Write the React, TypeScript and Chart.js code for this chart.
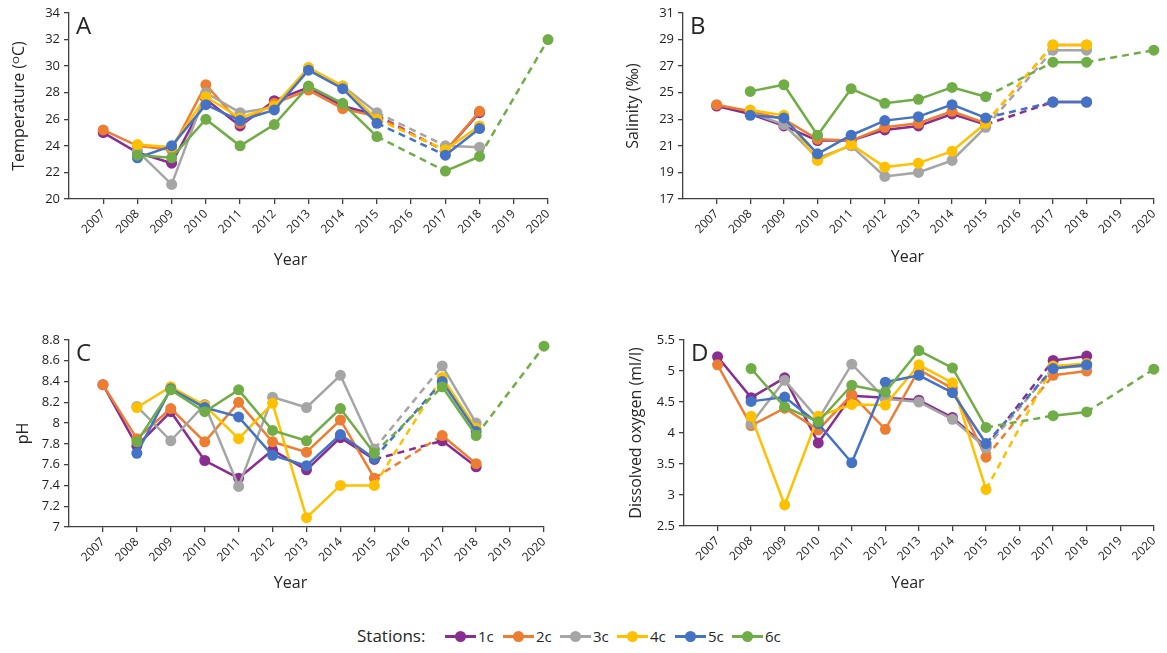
import React, { useEffect, useRef } from 'react';
import { Chart, registerables } from 'chart.js';

Chart.register(...registerables);

const FONT = '"Open Sans", "DejaVu Sans", sans-serif';
const TEXT = '#262626';
const AXIS = '#404040';

const YEARS = [2007, 2008, 2009, 2010, 2011, 2012, 2013, 2014, 2015, 2016, 2017, 2018, 2019, 2020];
const STATIONS = ['1c', '2c', '3c', '4c', '5c', '6c'];
const COLORS = ['#8A2D91', '#ED7D31', '#A5A5A5', '#FFC000', '#4472C4', '#70AD47'];

// Temperature (°C)
const TEMP_1C = [25.0, 23.5, 22.7, 27.5, 25.5, 27.4, 28.4, 27.0, 26.3, null, 23.6, 26.5, null, null];
const TEMP_2C = [25.2, 24.0, 23.7, 28.6, 25.7, 27.2, 28.2, 26.8, 26.2, null, 23.6, 26.6, null, null];
const TEMP_3C = [null, 23.6, 21.1, 28.0, 26.5, 26.9, 29.8, 28.5, 26.5, null, 24.0, 23.9, null, null];
const TEMP_4C = [null, 24.1, 23.9, 27.7, 26.1, 27.0, 29.9, 28.5, 26.0, null, 23.7, 25.5, null, null];
const TEMP_5C = [null, 23.1, 24.0, 27.1, 25.9, 26.7, 29.7, 28.3, 25.7, null, 23.3, 25.3, null, null];
const TEMP_6C = [null, 23.3, 23.1, 26.0, 24.0, 25.6, 28.5, 27.2, 24.7, null, 22.1, 23.2, null, 32.0];

// Salinity (‰)
const SAL_1C = [24.0, 23.4, 22.5, 21.4, 21.4, 22.2, 22.5, 23.4, 22.6, null, 24.3, 24.3, null, null];
const SAL_2C = [24.1, 23.6, 23.0, 21.5, 21.4, 22.4, 22.7, 23.6, 22.7, null, 28.6, 28.6, null, null];
const SAL_3C = [null, 23.5, 22.6, 20.1, 21.0, 18.7, 19.0, 19.9, 22.4, null, 28.2, 28.2, null, null];
const SAL_4C = [null, 23.7, 23.3, 19.9, 21.1, 19.4, 19.7, 20.6, 22.7, null, 28.6, 28.6, null, null];
const SAL_5C = [null, 23.3, 23.1, 20.4, 21.8, 22.9, 23.2, 24.1, 23.1, null, 24.3, 24.3, null, null];
const SAL_6C = [null, 25.1, 25.6, 21.8, 25.3, 24.2, 24.5, 25.4, 24.7, null, 27.3, 27.3, null, 28.2];

// pH
const PH_1C = [8.37, 7.78, 8.11, 7.64, 7.47, 7.74, 7.55, 7.86, 7.65, null, 7.83, 7.58, null, null];
const PH_2C = [8.37, 7.85, 8.14, 7.82, 8.20, 7.82, 7.72, 8.03, 7.47, null, 7.88, 7.61, null, null];
const PH_3C = [null, 8.16, 7.83, 8.18, 7.39, 8.25, 8.15, 8.46, 7.75, null, 8.55, 8.00, null, null];
const PH_4C = [null, 8.15, 8.35, 8.17, 7.85, 8.19, 7.09, 7.40, 7.40, null, 8.44, 7.95, null, null];
const PH_5C = [null, 7.71, 8.33, 8.15, 8.06, 7.69, 7.59, 7.89, 7.66, null, 8.40, 7.92, null, null];
const PH_6C = [null, 7.82, 8.32, 8.11, 8.32, 7.93, 7.83, 8.14, 7.71, null, 8.35, 7.88, null, 8.74];

// Dissolved oxygen (ml/l)
const DO_1C = [5.23, 4.57, 4.89, 3.84, 4.60, 4.57, 4.53, 4.25, 3.78, null, 5.17, 5.24, null, null];
const DO_2C = [5.10, 4.12, 4.40, 4.05, 4.62, 4.06, 5.02, 4.72, 3.61, null, 4.93, 5.00, null, null];
const DO_3C = [null, 4.15, 4.85, 4.22, 5.11, 4.55, 4.50, 4.22, 3.76, null, 5.05, 5.08, null, null];
const DO_4C = [null, 4.27, 2.84, 4.27, 4.46, 4.45, 5.10, 4.81, 3.09, null, 5.08, 5.12, null, null];
const DO_5C = [null, 4.51, 4.58, 4.15, 3.52, 4.82, 4.93, 4.65, 3.83, null, 5.04, 5.10, null, null];
const DO_6C = [null, 5.04, 4.42, 4.18, 4.77, 4.66, 5.33, 5.05, 4.09, null, 4.28, 4.34, null, 5.03];

const TEMP_TICKS = [20, 22, 24, 26, 28, 30, 32, 34];
const SAL_TICKS = [17, 19, 21, 23, 25, 27, 29, 31];
const PH_TICKS = [7, 7.2, 7.4, 7.6, 7.8, 8, 8.2, 8.4, 8.6, 8.8];
const DO_TICKS = [2.5, 3, 3.5, 4, 4.5, 5, 5.5];

type Spec = {
  letter: string;
  yTitle: string;
  series: (number | null)[][];
  yTicks: number[];
  box: { left: number; top: number; width: number; height: number };
  pad: { left: number; right: number; top: number; bottom: number };
  yWidth: number;
  xHeight: number;
  xTitleDx: number;
  xTitleY: number;
};

const PANELS: Spec[] = [
  {
    letter: 'A', yTitle: 'Temperature (\u1D3CC)',
    series: [TEMP_1C, TEMP_2C, TEMP_3C, TEMP_4C, TEMP_5C, TEMP_6C], yTicks: TEMP_TICKS,
    box: { left: 0, top: 0, width: 580, height: 300 },
    pad: { left: 6, right: 32, top: 13, bottom: 26 }, yWidth: 63, xHeight: 75,
    xTitleDx: -18, xTitleY: 260,
  },
  {
    letter: 'B', yTitle: 'Salinity (\u2030)',
    series: [SAL_1C, SAL_2C, SAL_3C, SAL_4C, SAL_5C, SAL_6C], yTicks: SAL_TICKS,
    box: { left: 600, top: 0, width: 567, height: 300 },
    pad: { left: 20, right: 5, top: 13, bottom: 28 }, yWidth: 63, xHeight: 73,
    xTitleDx: -11, xTitleY: 257,
  },
  {
    letter: 'C', yTitle: 'pH',
    series: [PH_1C, PH_2C, PH_3C, PH_4C, PH_5C, PH_6C], yTicks: PH_TICKS,
    box: { left: 0, top: 320, width: 580, height: 300 },
    pad: { left: 10, right: 36, top: 20, bottom: 23 }, yWidth: 59, xHeight: 70,
    xTitleDx: -16, xTitleY: 263,
  },
  {
    letter: 'D', yTitle: 'Dissolved oxygen (ml/l)',
    series: [DO_1C, DO_2C, DO_3C, DO_4C, DO_5C, DO_6C], yTicks: DO_TICKS,
    box: { left: 600, top: 320, width: 567, height: 300 },
    pad: { left: 23, right: 8, top: 20, bottom: 23 }, yWidth: 61, xHeight: 71,
    xTitleDx: -11, xTitleY: 263,
  },
];

function Panel({ spec }: { spec: Spec }) {
  const ref = useRef<HTMLCanvasElement>(null);
  useEffect(() => {
    const labelPlugin = {
      id: 'panelLabels',
      afterDraw(chart: any) {
        const { ctx, chartArea } = chart;
        ctx.save();
        ctx.fillStyle = TEXT;
        ctx.textBaseline = 'alphabetic';
        ctx.textAlign = 'left';
        ctx.font = `24px ${FONT}`;
        ctx.fillText(spec.letter, chartArea.left + 7, chartArea.top + 21);
        ctx.font = `16px ${FONT}`;
        ctx.textAlign = 'center';
        ctx.textBaseline = 'middle';
        ctx.fillText('Year', (chartArea.left + chartArea.right) / 2 + spec.xTitleDx, spec.xTitleY);
        ctx.restore();
      },
    };
    const chart = new Chart(ref.current as HTMLCanvasElement, {
      type: 'line',
      data: {
        datasets: spec.series.map((vals, i) => ({
          label: STATIONS[i],
          data: YEARS.map((x, j) => ({ x, y: vals[j] })).filter((p) => p.y !== null) as any,
          borderColor: COLORS[i],
          backgroundColor: COLORS[i],
          pointBackgroundColor: COLORS[i],
          pointBorderColor: COLORS[i],
          borderWidth: 2.5,
          pointRadius: 5.5,
          pointHoverRadius: 5.5,
          pointBorderWidth: 0,
          tension: 0,
          clip: false as any,
          order: 6 - i,
          segment: {
            borderDash: (ctx: any) => (ctx.p1.parsed.x - ctx.p0.parsed.x > 1 ? [7, 5] : undefined),
          },
        })),
      },
      options: {
        animation: false,
        responsive: false,
        events: [],
        layout: { padding: spec.pad },
        plugins: { legend: { display: false }, tooltip: { enabled: false } },
        scales: {
          x: {
            type: 'linear',
            min: 2006,
            max: 2020,
            afterBuildTicks: (s: any) => { s.ticks = YEARS.map((v) => ({ value: v })); },
            afterFit: (s: any) => { s.height = spec.xHeight; },
            ticks: {
              autoSkip: false,
              minRotation: 45,
              maxRotation: 45,
              padding: 3,
              color: '#1f1f1f',
              font: { family: FONT, size: 12 },
              callback: (v: any) => String(v),
            },
            grid: { display: true, drawOnChartArea: false, drawTicks: true, tickLength: 5, color: AXIS, lineWidth: 1.3 },
            border: { display: true, color: AXIS, width: 1.3 },
            title: { display: false, text: 'Year' },
          },
          y: {
            type: 'linear',
            min: spec.yTicks[0],
            max: spec.yTicks[spec.yTicks.length - 1],
            afterBuildTicks: (s: any) => { s.ticks = spec.yTicks.map((v) => ({ value: v })); },
            afterFit: (s: any) => { s.width = spec.yWidth; },
            ticks: {
              autoSkip: false,
              padding: 4,
              color: '#1f1f1f',
              font: { family: FONT, size: 13 },
              callback: (v: any) => String(v),
            },
            grid: { display: true, drawOnChartArea: false, drawTicks: true, tickLength: 5, color: AXIS, lineWidth: 1.3 },
            border: { display: true, color: AXIS, width: 1.3 },
            title: { display: true, text: spec.yTitle, color: TEXT, font: { family: FONT, size: 16, lineHeight: 1.2 }, padding: { top: 4, bottom: 4 } },
          },
        },
      } as any,
      plugins: [labelPlugin],
    });
    return () => chart.destroy();
  }, [spec]);
  const b = spec.box;
  return (
    <canvas
      ref={ref}
      width={b.width}
      height={b.height}
      style={{ position: 'absolute', left: b.left, top: b.top, width: b.width, height: b.height }}
    />
  );
}

const LEGEND_X = [445, 503, 560, 617, 675, 732];

function Legend() {
  return (
    <div style={{ position: 'absolute', left: 0, top: 622, width: 1167, height: 28, fontFamily: FONT, color: TEXT }}>
      <div style={{ position: 'absolute', left: 357, top: 0, height: 28, lineHeight: '28px', fontSize: 17 }}>Stations:</div>
      {STATIONS.map((s, i) => (
        <div key={s} style={{ position: 'absolute', left: LEGEND_X[i], top: 0, height: 28 }}>
          <div style={{ position: 'absolute', left: 0, top: 13, width: 31, height: 2.5, background: COLORS[i] }} />
          <div style={{ position: 'absolute', left: 10, top: 9, width: 11, height: 11, borderRadius: '50%', background: COLORS[i] }} />
          <div style={{ position: 'absolute', left: 33, top: 0, lineHeight: '28px', fontSize: 15, whiteSpace: 'nowrap' }}>{s}</div>
        </div>
      ))}
    </div>
  );
}

export default function App() {
  return (
    <div style={{ position: 'fixed', left: 0, top: 0, width: 1167, height: 653, background: '#fff', overflow: 'hidden' }}>
      {PANELS.map((p) => (
        <Panel key={p.letter} spec={p} />
      ))}
      <Legend />
    </div>
  );
}
